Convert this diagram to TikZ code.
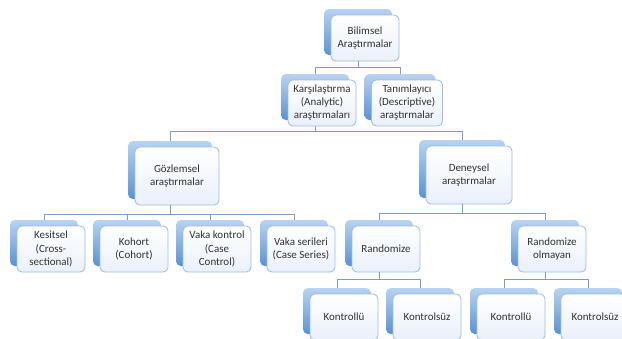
\documentclass[tikz,border=0pt]{standalone}
\usepackage{fontspec}
\setmainfont{Carlito}
\usetikzlibrary{positioning,calc}

\definecolor{arkaust}{RGB}{184,211,242}
\definecolor{arkaalt}{RGB}{88,146,214}
\definecolor{onkenar}{RGB}{158,188,226}
\definecolor{onalt}{RGB}{234,240,250}
\definecolor{cizgi}{RGB}{122,156,198}
\definecolor{yazirenk}{RGB}{50,50,50}

% box with its shaded back plate: name, x, y, width, height, text
\newcommand{\kutu}[6]{%
  \node[arka, minimum width=#4*0.025cm, minimum height=#5*0.025cm] (#1-b) at ($(#2,#3)+(-7,-6)$) {};
  \node[onkutu, minimum width=#4*0.025cm, minimum height=#5*0.025cm] (#1) at (#2,#3) {#6};
}

\begin{document}
\begin{tikzpicture}[x=0.025cm, y=-0.025cm,
    arka/.style={rounded corners=0.12cm, top color=arkaust, bottom color=arkaalt, inner sep=0pt},
    onkutu/.style={rounded corners=0.12cm, draw=onkenar, line width=0.6pt, top color=white,
        bottom color=onalt, inner sep=0pt, align=center, text=yazirenk,
        font=\fontsize{7.8}{9.3}\selectfont},
    bag/.style={draw=cizgi, line width=0.6pt}]
    \useasboundingbox (0,0) rectangle (622,338);

    % Top levels
    \kutu{bil}{365}{38}{68}{46}{Bilimsel\\Araştırmalar}
    \kutu{kar}{322}{103}{68}{46}{Karşılaştırma\\(Analytic)\\araştırmaları}
    \kutu{tan}{407}{103}{71}{46}{Tanımlayıcı\\(Descriptive)\\araştırmalar}

    % Observational / experimental
    \kutu{goz}{177}{176}{84}{58}{Gözlemsel\\araştırmalar}
    \kutu{den}{469}{175}{86}{58}{Deneysel\\araştırmalar}

    % Study types
    \kutu{kes}{51}{249}{68}{46}{Kesitsel\\(Cross-\\sectional)}
    \kutu{koh}{134}{249}{68}{46}{Kohort\\(Cohort)}
    \kutu{vkk}{217}{249}{68}{46}{Vaka kontrol\\(Case\\Control)}
    \kutu{vks}{301}{249}{68}{46}{Vaka serileri\\(Case Series)}
    \kutu{ran}{386}{249}{68}{46}{Randomize}
    \kutu{rno}{552}{249}{68}{46}{Randomize\\olmayan}

    % Controlled / uncontrolled
    \kutu{ka}{344}{317}{68}{46}{Kontrollü}
    \kutu{kb}{427}{317}{68}{46}{Kontrolsüz}
    \kutu{kc}{511}{317}{68}{46}{Kontrollü}
    \kutu{kd}{595}{317}{68}{46}{Kontrolsüz}

    % Connectors
    \foreach \ust/\alt/\ara in {bil/kar/6, bil/tan/6, kar/goz/5, kar/den/5,
        goz/kes/9, goz/koh/9, goz/vkk/9, goz/vks/9, den/ran/9, den/rno/9,
        ran/ka/7, ran/kb/7, rno/kc/7, rno/kd/7}
        \draw[bag] (\ust-b |- \ust.south) -- ++(0,\ara) -| (\alt-b.north);
\end{tikzpicture}
\end{document}
